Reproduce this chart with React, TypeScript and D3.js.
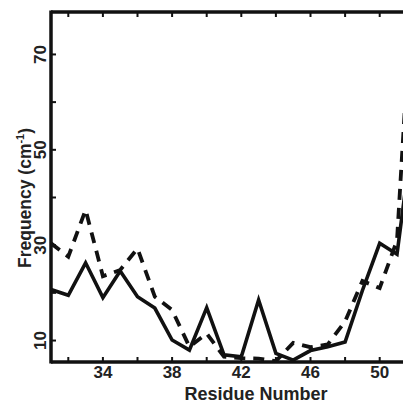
import React from "react";
import * as d3 from "d3";

const residues = [31, 32, 33, 34, 35, 36, 37, 38, 39, 40, 41, 42, 43, 44, 45, 46, 47, 48, 49, 50, 51, 52];
const solidSeries = [20.7, 19.5, 26.3, 19.0, 24.6, 19.2, 16.8, 10.1, 8.0, 16.9, 7.0, 6.6, 18.5, 7.3, 5.9, 7.9, 8.7, 9.7, 20.5, 30.4, 28.1, 56];
const dashedSeries = [30.4, 27.6, 37.4, 23.5, 24.8, 29.3, 19.2, 16.4, 8.7, 11.5, 6.6, 6.3, 6.2, 5.7, 9.5, 8.6, 9.2, 14.0, 22.5, 21.0, 31.0, 92];
const xTickValues = [32, 34, 36, 38, 40, 42, 44, 46, 48, 50];
const xTickLabels = [34, 38, 42, 46, 50];
const yTickValues = [10, 20, 30, 40, 50, 60, 70];
const yTickLabels = [10, 30, 50, 70];

const W = 403;
const H = 403;
const left = 51;
const top = 12;
const bottom = 362;
const FONT = "'Liberation Sans', Arial, Helvetica, sans-serif";

export default function App() {
  const x = d3.scaleLinear().domain([31, 52]).range([left, left + 21 * 17.3]);
  const y = d3.scaleLinear().domain([5.5, 78.9]).range([bottom, top]);
  const line = d3
    .line<number>()
    .x((_, i) => x(residues[i]))
    .y((d) => y(d));

  return (
    <svg
      width={W}
      height={H}
      style={{ position: "absolute", left: 0, top: 0, background: "#fff" }}
    >
      <defs>
        <clipPath id="plot">
          <rect x={left} y={top} width={W - left} height={bottom - top} />
        </clipPath>
      </defs>
      <g clipPath="url(#plot)">
        <path d={line(solidSeries) || ""} fill="none" stroke="#111" strokeWidth={3.6} />
        <path
          d={line(dashedSeries) || ""}
          fill="none"
          stroke="#111"
          strokeWidth={3.8}
          strokeDasharray="11 8"
        />
      </g>
      {/* spines */}
      <line x1={left} x2={left} y1={top - 1.5} y2={bottom + 1.5} stroke="#111" strokeWidth={3.5} />
      <line x1={left} x2={W} y1={top} y2={top} stroke="#111" strokeWidth={3.5} />
      <line x1={left} x2={W} y1={bottom} y2={bottom} stroke="#111" strokeWidth={3.5} />
      {/* ticks */}
      {xTickValues.map((v) => (
        <g key={"xt" + v}>
          <line x1={x(v)} x2={x(v)} y1={bottom} y2={bottom - 5} stroke="#111" strokeWidth={2} />
          <line x1={x(v)} x2={x(v)} y1={top} y2={top + 5} stroke="#111" strokeWidth={2} />
        </g>
      ))}
      {yTickValues.map((v) => (
        <line key={"yt" + v} x1={left} x2={left + 5} y1={y(v)} y2={y(v)} stroke="#111" strokeWidth={2} />
      ))}
      {/* tick labels */}
      {xTickLabels.map((v) => (
        <text
          key={"xl" + v}
          x={x(v)}
          y={378}
          textAnchor="middle"
          fontFamily={FONT}
          fontWeight="bold"
          fontSize={17}
          fill="#222"
        >
          {v}
        </text>
      ))}
      {yTickLabels.map((v) => (
        <text
          key={"yl" + v}
          transform={`translate(46,${y(v)}) rotate(-90)`}
          textAnchor="middle"
          fontFamily={FONT}
          fontWeight="bold"
          fontSize={17}
          fill="#222"
        >
          {v}
        </text>
      ))}
      {/* axis titles */}
      <text
        x={256}
        y={400}
        textAnchor="middle"
        fontFamily={FONT}
        fontWeight="bold"
        fontSize={18}
        fill="#222"
      >
        Residue Number
      </text>
      <text
        transform="translate(31,198) rotate(-90)"
        textAnchor="middle"
        fontFamily={FONT}
        fontWeight="bold"
        fontSize={17.5}
        fill="#222"
      >
        Frequency (cm
        <tspan fontSize={11} dy={-7}>-1</tspan>
        <tspan dy={7}>)</tspan>
      </text>
    </svg>
  );
}
